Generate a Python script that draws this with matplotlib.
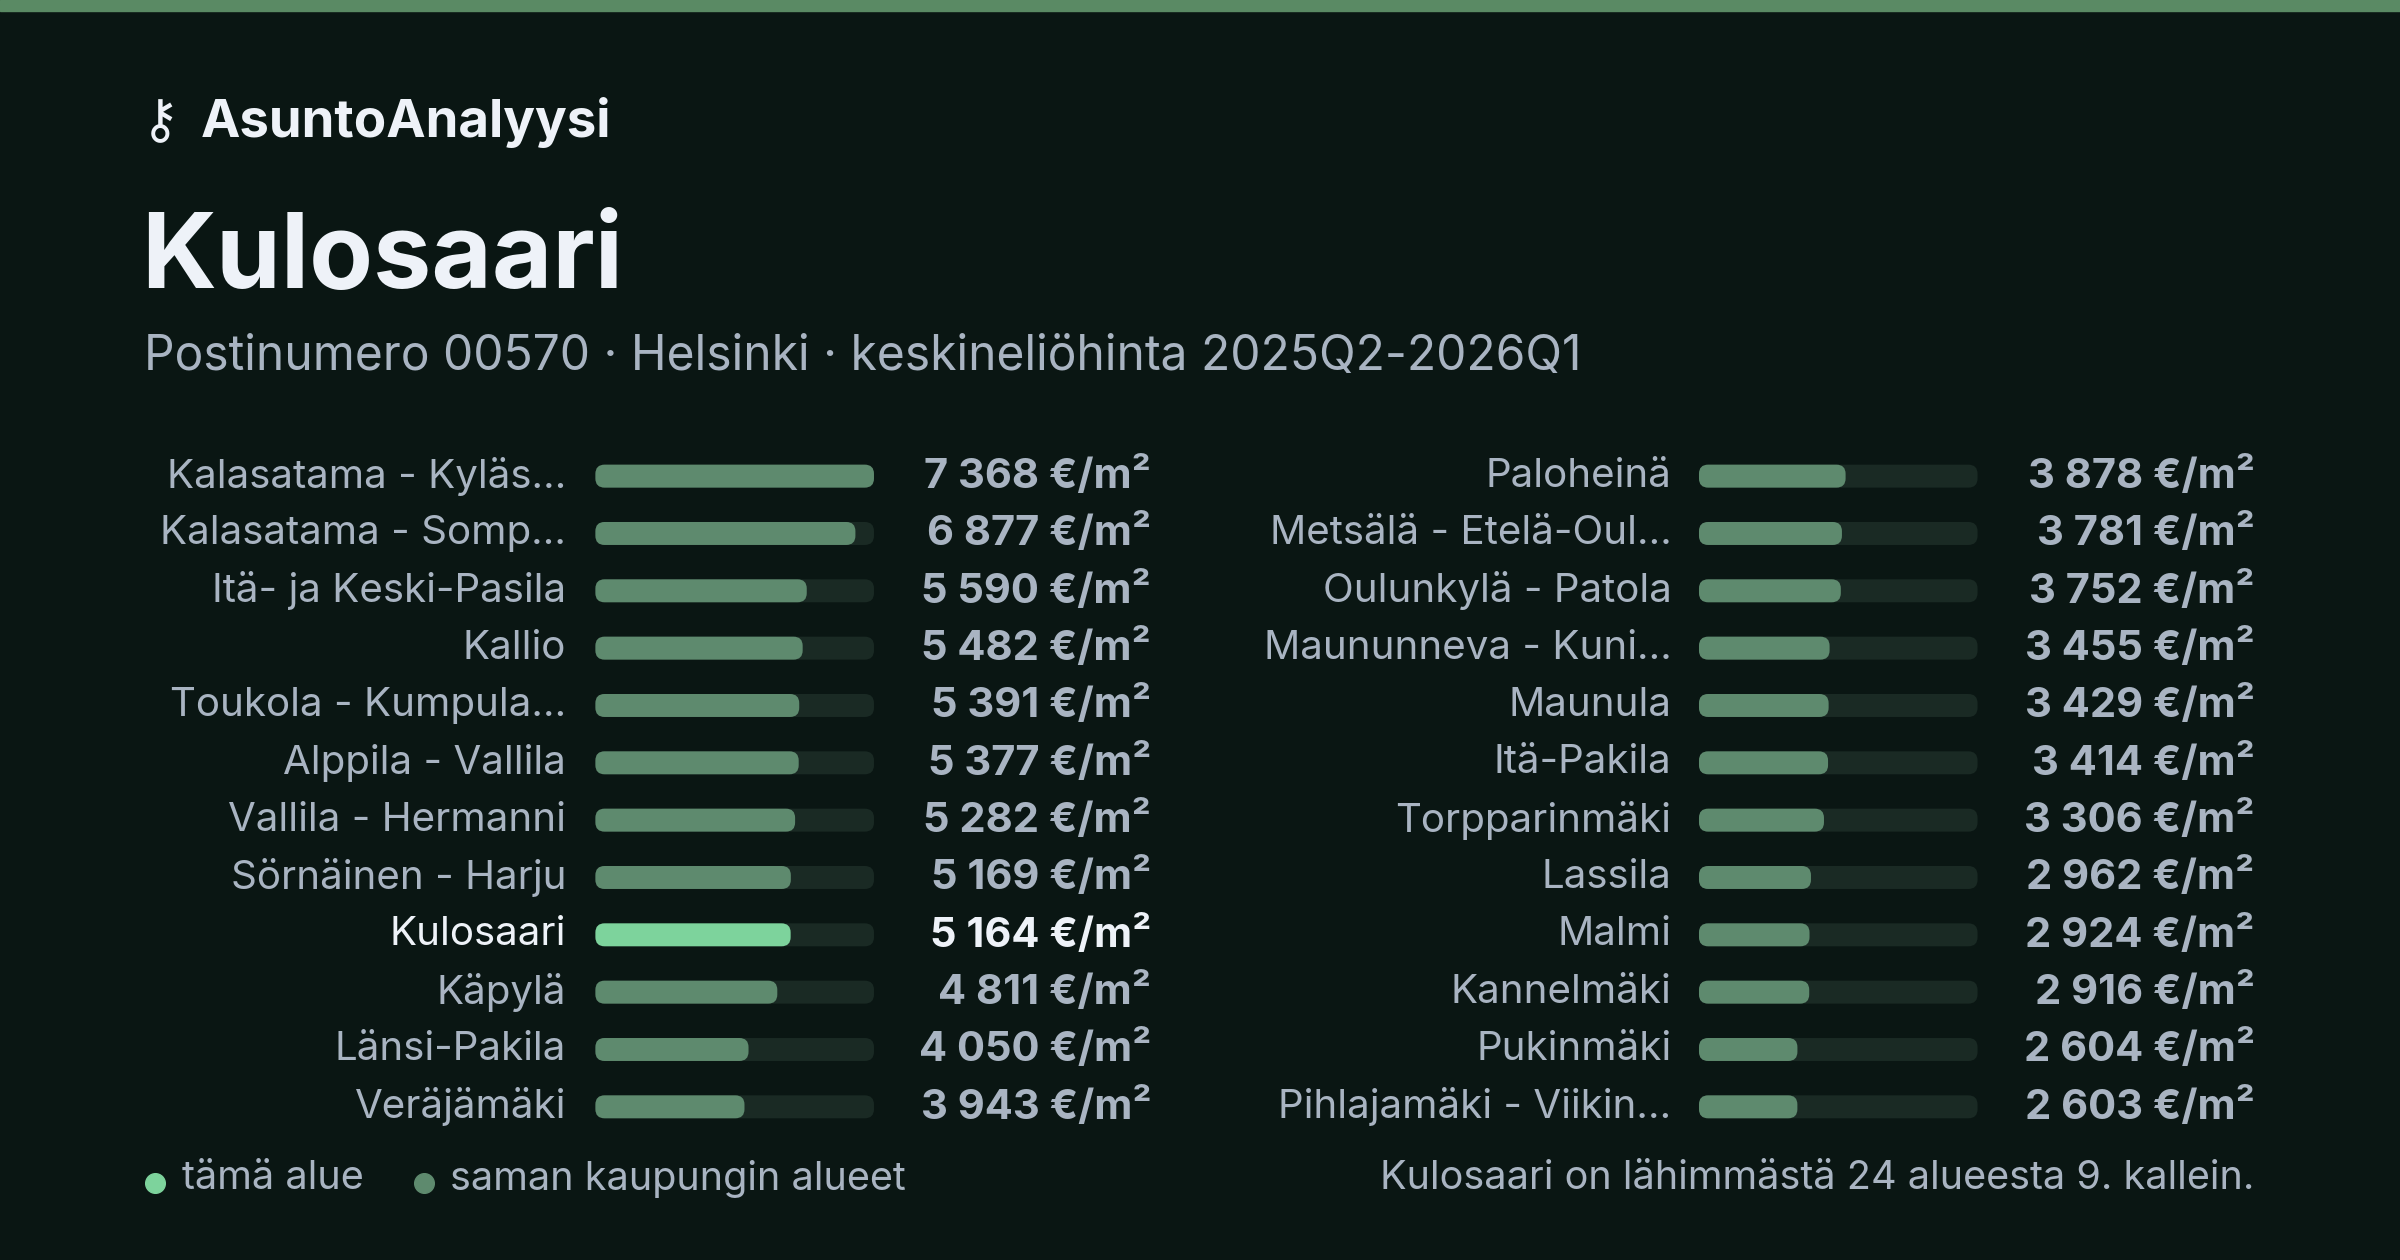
import matplotlib
matplotlib.use('Agg')
import matplotlib.pyplot as plt
from matplotlib.patches import FancyBboxPatch, Rectangle

plt.rcParams['font.family'] = ['Inter', 'DejaVu Sans']

# data
left_names = ['Kalasatama - Kyläs…', 'Kalasatama - Somp…', 'Itä- ja Keski-Pasila', 'Kallio',
              'Toukola - Kumpula…', 'Alppila - Vallila', 'Vallila - Hermanni', 'Sörnäinen - Harju',
              'Kulosaari', 'Käpylä', 'Länsi-Pakila', 'Veräjämäki']
left_vals = [7368, 6877, 5590, 5482, 5391, 5377, 5282, 5169, 5164, 4811, 4050, 3943]
right_names = ['Paloheinä', 'Metsälä - Etelä-Oul…', 'Oulunkylä - Patola', 'Maununneva - Kuni…',
               'Maunula', 'Itä-Pakila', 'Torpparinmäki', 'Lassila', 'Malmi', 'Kannelmäki',
               'Pukinmäki', 'Pihlajamäki - Viikin…']
right_vals = [3878, 3781, 3752, 3455, 3429, 3414, 3306, 2962, 2924, 2916, 2604, 2603]
highlight = 'Kulosaari'

BG = '#0a1613'
TRACK = '#1a2a24'
BAR = '#5e8a6e'
HI = '#7dd39c'
TXT = '#a9b4c2'
WHITE = '#eef2f8'

fig = plt.figure(figsize=(24, 12.6), dpi=100, facecolor=BG)
ax = fig.add_axes([0, 0, 1, 1])
ax.set_xlim(0, 1568)
ax.set_ylim(823, 0)
ax.axis('off')
ax.set_facecolor(BG)

ax.add_patch(Rectangle((0, 0), 1568, 7, color='#5a8a64'))

ax.text(92, 80, '⚷', fontsize=38, color=WHITE, va='center', ha='left', family=['DejaVu Sans'])
ax.text(131, 80, 'AsuntoAnalyysi', fontsize=38, color=WHITE, va='center', fontweight='bold')
ax.text(92, 170, 'Kulosaari', fontsize=75, color=WHITE, va='center', fontweight='bold')
ax.text(94, 233, 'Postinumero 00570 · Helsinki · keskineliöhinta 2025Q2-2026Q1',
        fontsize=34.5, color=TXT, va='center')

vmax = max(left_vals + right_vals)


def fmt(v):
    return f'{v:,}'.replace(',', ' ') + ' €/m²'


def column(names, vals, lab_x, bar_x, val_x):
    bw = 182
    for i, (n, v) in enumerate(zip(names, vals)):
        y = 311 + i * 37.45
        hi = n == highlight
        ax.add_patch(FancyBboxPatch((bar_x + 6, y - 1.5), bw - 12, 3,
                                    boxstyle='round,pad=6', fc=TRACK, ec='none'))
        w = bw * v / vmax
        ax.add_patch(FancyBboxPatch((bar_x + 6, y - 1.5), w - 12, 3,
                                    boxstyle='round,pad=6', fc=HI if hi else BAR, ec='none'))
        ax.text(lab_x, y, n, fontsize=29, ha='right', va='center', color=WHITE if hi else TXT)
        ax.text(val_x, y, fmt(v), fontsize=30, ha='right', va='center', fontweight='bold',
                color=WHITE if hi else TXT)


column(left_names, left_vals, 370, 389, 752)
column(right_names, right_vals, 1092, 1110, 1473)

ax.scatter([101], [773], s=200, color=HI)
ax.text(119, 770, 'tämä alue', fontsize=28.5, color=TXT, va='center')
ax.scatter([277], [773], s=200, color=BAR)
ax.text(294, 770, 'saman kaupungin alueet', fontsize=28.5, color=TXT, va='center')
ax.text(1473, 770, 'Kulosaari on lähimmästä 24 alueesta 9. kallein.', fontsize=28.5,
        color=TXT, va='center', ha='right')

fig.savefig('out.png', dpi=100, facecolor=BG)
